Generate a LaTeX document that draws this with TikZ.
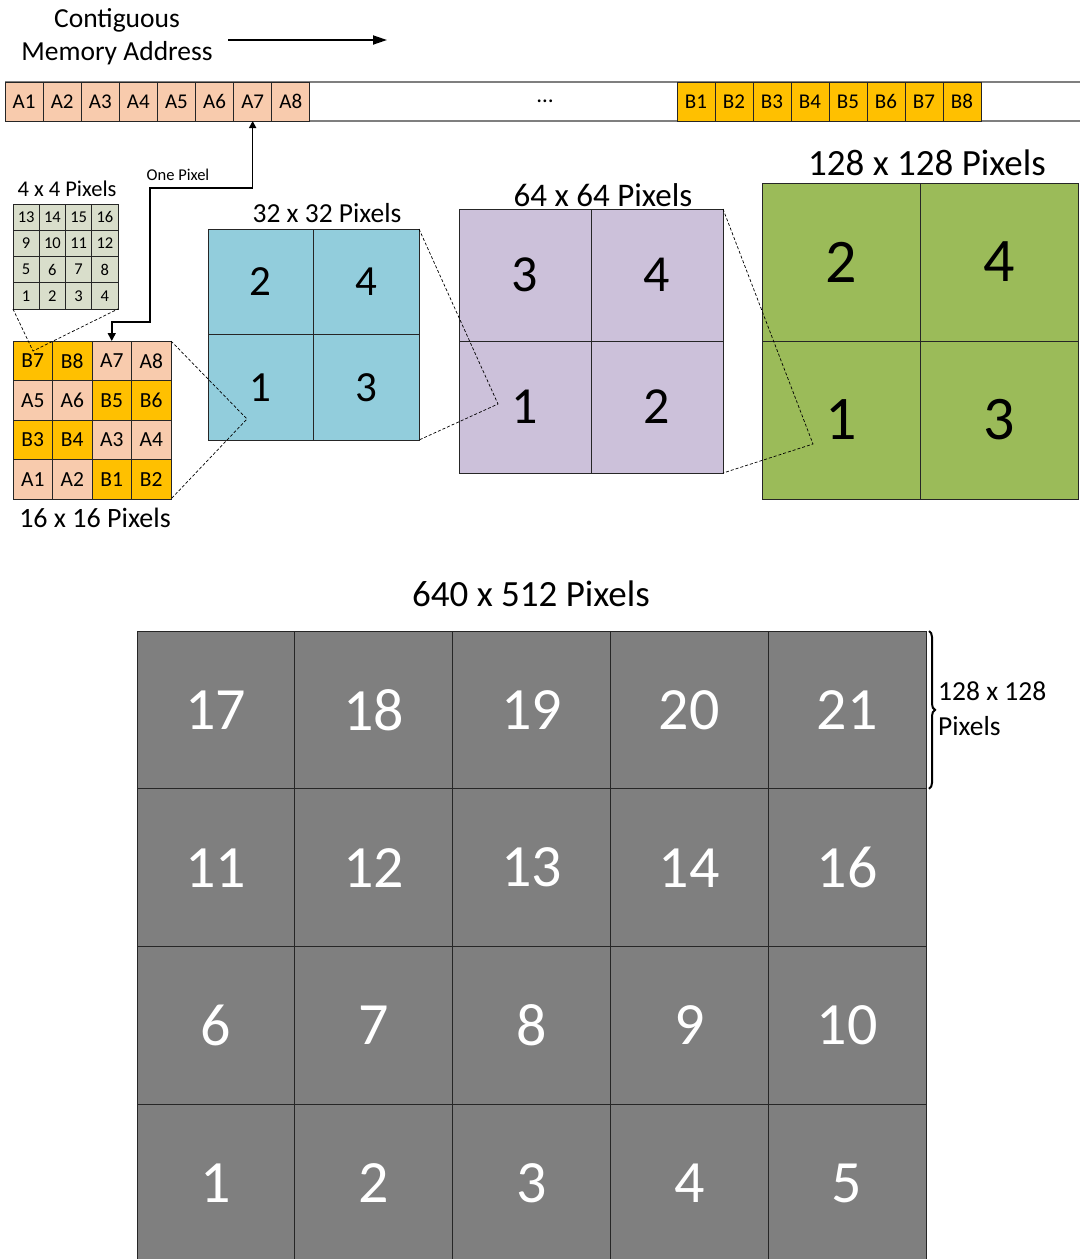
\documentclass[tikz,border=0pt]{standalone}
\usepackage{fontspec}
\setmainfont{Carlito}
\usetikzlibrary{arrows.meta,decorations.pathreplacing,calc}
\definecolor{peach}{HTML}{F8CBAD}
\definecolor{gold}{HTML}{FFC000}
\definecolor{sage}{HTML}{D9DECB}
\definecolor{aqua}{HTML}{92CDDC}
\definecolor{lilac}{HTML}{CCC1DA}
\definecolor{olive}{HTML}{9BBB59}
\definecolor{tilegray}{HTML}{7F7F7F}
\newcommand\fsz[2]{\fontsize{#1}{#2}\selectfont}
\begin{document}
\begin{tikzpicture}[x=1pt,y=-1pt,
  cell/.style={draw=black!85, line width=0.9pt, minimum width=#1pt, minimum height=#1pt, inner sep=0pt, outer sep=0pt},
  mem/.style={draw=black!85, line width=0.9pt, minimum width=38.1pt, minimum height=39pt, inner sep=0pt, outer sep=0pt, font=\fsz{21}{25}},
  zoomline/.style={dash pattern=on 3pt off 2pt, line width=0.7pt},
  lbl/.style={inner sep=0pt, align=center}]
\path[clip] (0,0) rectangle (1080,1259);
\fill[white] (0,0) rectangle (1080,1259);
% title and arrow
\node[lbl, font=\fsz{27.5}{33}] (title) at (117,37) {Contiguous\\Memory Address};
\coordinate (arrS) at (228,40);
\coordinate (arrE) at (387,40);
\draw[line width=1.8pt, -{Triangle[length=14pt,width=9pt]}] (arrS) -- (arrE);
% memory bar
\coordinate (barTL) at (5,82);
\coordinate (barTR) at (1080,82);
\coordinate (barBL) at (5,121);
\coordinate (barBR) at (1080,121);
\draw[tilegray, line width=1.3pt] (barTL) -- (barTR) (barBL) -- (barBR);
\foreach \i in {1,...,8}
  \node[mem, fill=peach] (A\i) at ({5+38.1*(\i-0.5)},101.5) {A\i};
\foreach \i in {1,...,8}
  \node[mem, fill=gold] (B\i) at ({677+38*(\i-0.5)},101.5) {B\i};
\node[lbl, font=\fsz{23}{27}] (dots) at (545,101) {…};
% 4x4 grid
\foreach \r in {0,...,3}
  \foreach \c in {0,...,3} {
    \pgfmathtruncatemacro\v{(3-\r)*4+\c+1}
    \node[cell=26.25, fill=sage, font=\fsz{16.5}{19}] (q\v) at ({13+26.25*(\c+0.5)},{204+26.25*(\r+0.5)}) {\v};
  }
\node[lbl, font=\fsz{22.5}{27}] (l4) at (67,189) {4 x 4 Pixels};
% 16x16 grid
\foreach \lab/\col [count=\k from 0] in {B7/gold,B8/gold,A7/peach,A8/peach,A5/peach,A6/peach,B5/gold,B6/gold,B3/gold,B4/gold,A3/peach,A4/peach,A1/peach,A2/peach,B1/gold,B2/gold} {
    \pgfmathtruncatemacro\r{floor(\k/4)}
    \pgfmathtruncatemacro\c{mod(\k,4)}
    \node[cell=39.5, fill=\col, font=\fsz{21.5}{25}] (p\k) at ({13+39.5*(\c+0.5)},{341+39.5*(\r+0.5)}) {\lab};
  }
\node[lbl, font=\fsz{28}{33}] (l16) at (95,518) {16 x 16 Pixels};
% 32x32
\foreach \lab/\r/\c in {2/0/0,4/0/1,1/1/0,3/1/1}
  \node[cell=105.5, fill=aqua, font=\fsz{43}{50}] (b\lab) at ({208+105.5*(\c+0.5)},{229+105.5*(\r+0.5)}) {\lab};
\node[lbl, font=\fsz{27.5}{33}] (l32) at (327,213) {32 x 32 Pixels};
% 64x64
\foreach \lab/\r/\c in {3/0/0,4/0/1,1/1/0,2/1/1}
  \node[cell=132, fill=lilac, font=\fsz{52}{60}] (u\lab) at ({459+132*(\c+0.5)},{209+132*(\r+0.5)}) {\lab};
\node[lbl, font=\fsz{33}{39}] (l64) at (603,195) {64 x 64 Pixels};
% 128x128
\foreach \lab/\r/\c in {2/0/0,4/0/1,1/1/0,3/1/1}
  \node[cell=158, fill=olive, font=\fsz{62}{72}] (g\lab) at ({762+158*(\c+0.5)},{183+158*(\r+0.5)}) {\lab};
\node[lbl, font=\fsz{37}{44}] (l128) at (927,163) {128 x 128 Pixels};
% zoom lines
\coordinate (v1) at (33,351);
\coordinate (v2) at (247,419);
\coordinate (v3) at (498,404);
\coordinate (v4) at (813,444);
\draw[zoomline] (q1.south west) -- (v1) -- (q4.south east);
\draw[zoomline] (p3.north east) -- (v2) -- (p15.south east);
\draw[zoomline] (b4.north east) -- (v3) -- (b3.south east);
\draw[zoomline] (u4.north east) -- (v4) -- (u2.south east);
% one pixel connector
\coordinate (k1) at (150,188);
\coordinate (k2) at (150,322);
\draw[line width=1.6pt, {Triangle[length=7pt,width=7pt]}-{Triangle[length=8pt,width=8pt]}] (A7.south) |- (k1) -- (k2) -| (p2.north);
\node[lbl, font=\fsz{16.5}{20}] (onepix) at (178,175) {One Pixel};
% 640x512
\node[lbl, font=\fsz{37}{44}] (l640) at (531,594) {640 x 512 Pixels};
\foreach \lab [count=\k from 0] in {17,18,19,20,21,11,12,13,14,16,6,7,8,9,10,1,2,3,4,5} {
    \pgfmathtruncatemacro\r{floor(\k/5)}
    \pgfmathtruncatemacro\c{mod(\k,5)}
    \node[cell=157.8, fill=tilegray, text=white, font=\fsz{60}{70}] (t\lab) at ({137+157.8*(\c+0.5)},{631+157.8*(\r+0.5)}) {\lab};
  }
\coordinate (brT) at ($(t21.north east)+(3,0)$);
\coordinate (brB) at ($(t21.south east)+(3,0)$);
\draw[decorate, decoration={brace, amplitude=6pt}, line width=2pt] (brT) -- (brB);
\node[inner sep=0pt, anchor=west, align=left, font=\fsz{27.5}{35}] (lbr) at (938,709) {128 x 128\\Pixels};
\end{tikzpicture}
\end{document}
